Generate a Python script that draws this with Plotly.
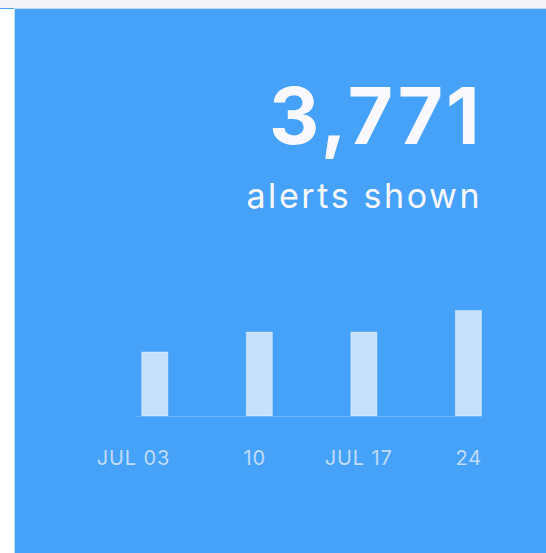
import json
import plotly.graph_objects as go

# Data
weeks = ["JUL 03", "JUL 10", "JUL 17", "JUL 24"]
tick_labels = ["JUL 03", "10", "JUL 17", "24"]
alerts = [715, 938, 938, 1180]
total_text = "3,771"
subtitle_text = "alerts shown"

# Styles
label_xshift = [-22, -5, -5, 0]
BG = "#46a1f9"
BAR = "#c6e1fb"
TXT = "#f9f9fd"
LBL = "#c0dcfa"

fig = go.Figure()
fig.add_trace(go.Bar(
    x=weeks, y=alerts,
    marker=dict(color=BAR, line=dict(color="rgba(255,255,255,0.35)", width=1)),
    width=0.25, hoverinfo="skip",
))

W, H = 546, 553
L, R, T, B = 137, 64, 237, 137
pw, ph = W - L - R, H - T - B

def px_x(x):
    return (x - L) / pw

def px_y(y):
    return 1 - (y - T) / ph

shapes = [
    dict(type="rect", xref="paper", yref="paper", x0=px_x(0), x1=px_x(14), y0=px_y(H), y1=px_y(9),
         fillcolor="#ffffff", line=dict(width=0), layer="below"),
    dict(type="rect", xref="paper", yref="paper", x0=px_x(14), x1=px_x(15), y0=px_y(H), y1=px_y(9),
         fillcolor="#bcdcfb", line=dict(width=0), layer="below"),
    dict(type="rect", xref="paper", yref="paper", x0=px_x(0), x1=px_x(W), y0=px_y(8), y1=px_y(0),
         fillcolor="#f5f4f9", line=dict(width=0), layer="below"),
    dict(type="rect", xref="paper", yref="paper", x0=px_x(14), x1=px_x(W), y0=px_y(9), y1=px_y(8),
         fillcolor="#bcdcfb", line=dict(width=0), layer="below"),
]

annotations = [
    dict(text="<b>" + total_text + "</b>", xref="paper", yref="paper", x=1, y=px_y(115),
         xanchor="right", yanchor="middle", showarrow=False,
         font=dict(family="Inter", size=78, color=TXT)),
    dict(text=subtitle_text, xref="paper", yref="paper", x=1, y=px_y(195),
         xanchor="right", yanchor="middle", showarrow=False,
         font=dict(family="Inter", size=34, color=TXT)),
]
for w, t, s in zip(weeks, tick_labels, label_xshift):
    annotations.append(dict(text=t, xref="x", yref="paper", x=w, y=px_y(458), xshift=s,
                            xanchor="center", yanchor="middle", showarrow=False,
                            font=dict(family="Inter", size=20, color=LBL)))

# letter spacing (px) and alignment per annotation, applied in the page
spacing = [[3, "end"], [2.6, "end"]] + [[0.9, "mid"]] * len(weeks)

fig.update_layout(
    width=W, height=H,
    margin=dict(l=L, r=R, t=T, b=B, pad=0),
    paper_bgcolor=BG, plot_bgcolor=BG,
    showlegend=False,
    xaxis=dict(type="category", range=[-0.17, 3.13], showticklabels=False, showgrid=False,
               zeroline=False, showline=True, linecolor="#69b3fa", linewidth=1, ticks=""),
    yaxis=dict(range=[0, 2000], visible=False, showgrid=False, zeroline=False),
    shapes=shapes, annotations=annotations,
)

js = """
document.body.style.margin='0';document.body.style.overflow='hidden';
var gd = document.getElementById('{plot_id}');
var specs = SPECS;
var els = gd.querySelectorAll('.annotation-text');
els.forEach(function(el, i){
  var s = specs[i]; if (!s) return;
  var b0 = el.getBBox();
  el.setAttribute('letter-spacing', s[0] + 'px');
  el.style.letterSpacing = s[0] + 'px';
  var b1 = el.getBBox();
  var dx;
  if (s[1] === 'end') dx = (b0.x + b0.width) - (b1.x + b1.width - s[0]);
  else dx = (b0.x + b0.width / 2) - (b1.x + (b1.width - s[0]) / 2);
  el.setAttribute('x', parseFloat(el.getAttribute('x') || 0) + dx);
});
""".replace("SPECS", json.dumps(spacing))

fig.write_html("out.html", config={"displayModeBar": False}, post_script=js)
